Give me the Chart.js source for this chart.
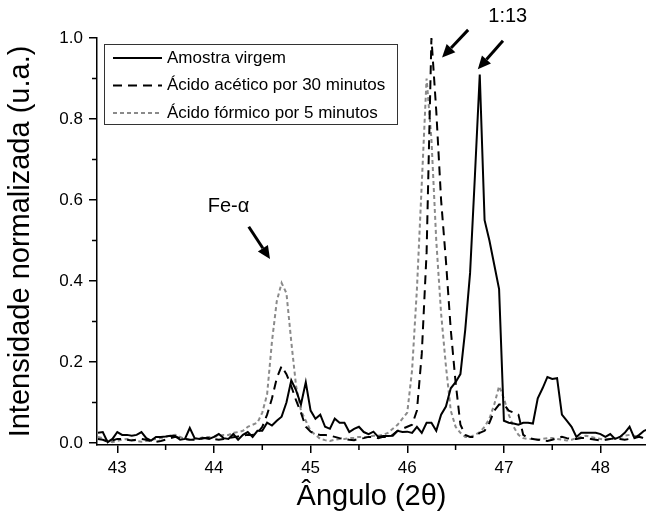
<!DOCTYPE html>
<html>
<head>
<meta charset="utf-8">
<script src="https://cdn.jsdelivr.net/npm/chart.js@4.4.1/dist/chart.umd.min.js"></script>
<style>
  html, body { margin: 0; padding: 0; background: #fff; }
</style>
</head>
<body>
<canvas id="chartXRD" width="646" height="520"></canvas>
<script>
// angulo 2theta (graus)
const angulos = [
  42.80, 42.85, 42.90, 42.95, 43.00, 43.05, 43.10, 43.15, 43.20, 43.25,
  43.30, 43.35, 43.40, 43.45, 43.50, 43.55, 43.60, 43.65, 43.70, 43.75,
  43.80, 43.85, 43.90, 43.95, 44.00, 44.05, 44.10, 44.15, 44.20, 44.25,
  44.30, 44.35, 44.40, 44.45, 44.50, 44.55, 44.60, 44.65, 44.70, 44.75,
  44.80, 44.85, 44.90, 44.95, 45.00, 45.05, 45.10, 45.15, 45.20, 45.25,
  45.30, 45.35, 45.40, 45.45, 45.50, 45.55, 45.60, 45.65, 45.70, 45.75,
  45.80, 45.85, 45.90, 45.95, 46.00, 46.05, 46.10, 46.15, 46.20, 46.25,
  46.30, 46.35, 46.40, 46.45, 46.50, 46.55, 46.60, 46.65, 46.70, 46.75,
  46.80, 46.85, 46.90, 46.95, 47.00, 47.05, 47.10, 47.15, 47.20, 47.25,
  47.30, 47.35, 47.40, 47.45, 47.50, 47.55, 47.60, 47.65, 47.70, 47.75,
  47.80, 47.85, 47.90, 47.95, 48.00, 48.05, 48.10, 48.15, 48.20, 48.25,
  48.30, 48.35, 48.40, 48.45, 48.50
];

const amostraVirgem = [
  0.025, 0.027, 0.002, 0.010, 0.027, 0.020, 0.020, 0.018, 0.020, 0.027,
  0.012, 0.006, 0.015, 0.015, 0.016, 0.018, 0.017, 0.008, 0.010, 0.037,
  0.012, 0.010, 0.012, 0.010, 0.015, 0.022, 0.012, 0.010, 0.022, 0.008,
  0.020, 0.027, 0.015, 0.030, 0.030, 0.050, 0.043, 0.055, 0.065, 0.100,
  0.155, 0.130, 0.095, 0.150, 0.080, 0.060, 0.070, 0.040, 0.035, 0.060,
  0.050, 0.050, 0.027, 0.035, 0.040, 0.027, 0.022, 0.028, 0.015, 0.017,
  0.017, 0.018, 0.030, 0.027, 0.028, 0.025, 0.040, 0.025, 0.050, 0.050,
  0.030, 0.070, 0.090, 0.135, 0.150, 0.170, 0.280, 0.420, 0.660, 0.910,
  0.550, 0.500, 0.440, 0.380, 0.055, 0.050, 0.048, 0.045, 0.050, 0.050,
  0.048, 0.110, 0.135, 0.163, 0.158, 0.160, 0.070, 0.055, 0.040, 0.015,
  0.025, 0.025, 0.025, 0.025, 0.022, 0.015, 0.022, 0.010, 0.015, 0.025,
  0.040, 0.012, 0.020, 0.030, 0.035
];

const acidoAcetico30 = [
  0.010, 0.008, 0.003, 0.006, 0.010, 0.010, 0.008, 0.006, 0.008, 0.010,
  0.008, 0.004, 0.003, 0.005, 0.008, 0.012, 0.015, 0.012, 0.010, 0.008,
  0.008, 0.010, 0.012, 0.012, 0.010, 0.008, 0.010, 0.012, 0.014, 0.016,
  0.018, 0.020, 0.020, 0.025, 0.040, 0.070, 0.110, 0.160, 0.190, 0.170,
  0.140, 0.105, 0.075, 0.040, 0.028, 0.022, 0.020, 0.020, 0.018, 0.015,
  0.012, 0.010, 0.008, 0.007, 0.010, 0.012, 0.015, 0.015, 0.012, 0.015,
  0.015, 0.020, 0.030, 0.035, 0.040, 0.045, 0.080, 0.220, 0.470, 1.000,
  0.820, 0.600, 0.450, 0.280, 0.150, 0.045, 0.020, 0.015, 0.015, 0.025,
  0.030, 0.050, 0.080, 0.095, 0.095, 0.080, 0.075, 0.070, 0.020, 0.012,
  0.010, 0.008, 0.006, 0.005, 0.008, 0.012, 0.015, 0.012, 0.010, 0.010,
  0.012, 0.012, 0.010, 0.008, 0.006, 0.008, 0.010, 0.012, 0.010, 0.008,
  0.010, 0.012, 0.015, 0.012, 0.010
];

const acidoFormico5 = [
  0.015, 0.012, 0.005, 0.002, 0.005, 0.008, 0.010, 0.008, 0.005, 0.003,
  0.005, 0.008, 0.010, 0.012, 0.015, 0.018, 0.020, 0.015, 0.010, 0.008,
  0.010, 0.012, 0.015, 0.015, 0.015, 0.018, 0.020, 0.020, 0.025, 0.027,
  0.030, 0.040, 0.045, 0.050, 0.075, 0.120, 0.250, 0.350, 0.395, 0.370,
  0.250, 0.140, 0.080, 0.055, 0.030, 0.020, 0.010, 0.007, 0.005, 0.008,
  0.010, 0.010, 0.012, 0.012, 0.015, 0.015, 0.015, 0.018, 0.018, 0.020,
  0.025, 0.035, 0.045, 0.060, 0.075, 0.180, 0.380, 0.640, 0.900, 0.750,
  0.500, 0.320, 0.190, 0.080, 0.040, 0.025, 0.015, 0.015, 0.020, 0.027,
  0.040, 0.060, 0.095, 0.140, 0.110, 0.070, 0.040, 0.020, 0.012, 0.010,
  0.010, 0.008, 0.010, 0.012, 0.012, 0.010, 0.008, 0.006, 0.008, 0.012,
  0.015, 0.018, 0.015, 0.012, 0.010, 0.008, 0.010, 0.012, 0.015, 0.018,
  0.020, 0.018, 0.015, 0.012, 0.010
];

const rotulos = ["Amostra virgem", "Ácido acético por 30 minutos", "Ácido fórmico por 5 minutos"];

// anotacoes em coordenadas de dados: [x0, y0, x1, y1] (ponta em x1,y1)
const setas = [
  [44.36, 0.534, 44.58, 0.454],
  [46.63, 1.020, 46.36, 0.952],
  [46.99, 0.993, 46.73, 0.923]
];
const textos = [
  { texto: "Fe-α", x: 44.15, y: 0.583 },
  { texto: "1:13", x: 47.04, y: 1.054 }
];

const FONTE = "'Liberation Sans', Arial, sans-serif";

function pontos(ys) {
  return ys.map((y, i) => ({ x: angulos[i], y: y }));
}

const soDentro = scale => {
  scale.ticks = scale.ticks.filter(t => t.value >= scale.min - 1e-9 && t.value <= scale.max + 1e-9);
};

// ticks menores, legenda com moldura e setas
const extras = {
  id: 'extras',
  afterDraw(chart) {
    const c = chart.ctx;
    const xs = chart.scales.x, ys = chart.scales.y;
    const area = chart.chartArea;

    c.save();
    c.strokeStyle = '#000';
    c.lineWidth = 1.5;
    c.beginPath();
    for (let v = Math.ceil(xs.min * 2) / 2; v <= xs.max; v += 0.5) {
      if (Math.abs(v - Math.round(v)) < 1e-6) continue;
      const px = xs.getPixelForValue(v);
      c.moveTo(px, area.bottom);
      c.lineTo(px, area.bottom + 5);
    }
    for (let k = 1; k < 10; k += 2) {
      const py = ys.getPixelForValue(k / 10);
      c.moveTo(area.left, py);
      c.lineTo(area.left - 5, py);
    }
    c.stroke();

    // legenda
    const lx = 104, ly = 44, lw = 293, lh = 80;
    c.fillStyle = '#fff';
    c.fillRect(lx, ly, lw, lh);
    c.strokeStyle = '#333';
    c.lineWidth = 1;
    c.strokeRect(lx + 0.5, ly + 0.5, lw, lh);
    c.font = '17px ' + FONTE;
    c.textBaseline = 'middle';
    c.textAlign = 'left';
    chart.data.datasets.forEach((ds, i) => {
      const yy = ly + 14 + i * 27.5;
      c.beginPath();
      c.setLineDash(ds.borderDash || []);
      c.strokeStyle = ds.borderColor;
      c.lineWidth = ds.borderWidth;
      c.moveTo(lx + 9, yy);
      c.lineTo(lx + 58, yy);
      c.stroke();
      c.setLineDash([]);
      c.fillStyle = '#000';
      c.fillText(ds.label, lx + 63, yy);
    });

    // setas
    c.strokeStyle = '#000';
    c.fillStyle = '#000';
    setas.forEach(s => {
      const x0 = xs.getPixelForValue(s[0]), y0 = ys.getPixelForValue(s[1]);
      const x1 = xs.getPixelForValue(s[2]), y1 = ys.getPixelForValue(s[3]);
      const ang = Math.atan2(y1 - y0, x1 - x0);
      const cab = 13, meia = 6;
      const bx = x1 - cab * Math.cos(ang), by = y1 - cab * Math.sin(ang);
      c.lineWidth = 3;
      c.beginPath();
      c.moveTo(x0, y0);
      c.lineTo(bx, by);
      c.stroke();
      c.beginPath();
      c.moveTo(x1, y1);
      c.lineTo(bx + meia * Math.sin(ang), by - meia * Math.cos(ang));
      c.lineTo(bx - meia * Math.sin(ang), by + meia * Math.cos(ang));
      c.closePath();
      c.fill();
    });

    c.font = '20px ' + FONTE;
    c.textAlign = 'center';
    textos.forEach(t => {
      c.fillText(t.texto, xs.getPixelForValue(t.x), ys.getPixelForValue(t.y));
    });
    c.restore();
  }
};

new Chart(document.getElementById('chartXRD').getContext('2d'), {
  type: 'line',
  data: {
    datasets: [
      {
        label: rotulos[0],
        data: pontos(amostraVirgem),
        borderColor: '#000',
        borderWidth: 2,
        borderDash: []
      },
      {
        label: rotulos[1],
        data: pontos(acidoAcetico30),
        borderColor: '#000',
        borderWidth: 2,
        borderDash: [9, 6]
      },
      {
        label: rotulos[2],
        data: pontos(acidoFormico5),
        borderColor: '#8a8a8a',
        borderWidth: 2,
        borderDash: [4, 3]
      }
    ]
  },
  options: {
    responsive: false,
    animation: false,
    layout: { padding: { top: 38, right: 0, left: 0, bottom: 0 } },
    elements: {
      point: { radius: 0 },
      line: { tension: 0, fill: false }
    },
    datasets: { line: { clip: false } },
    plugins: {
      legend: { display: false },
      tooltip: { enabled: false }
    },
    scales: {
      x: {
        type: 'linear',
        min: 42.79,
        max: 48.47,
        afterFit: s => { s.height = 75; },
        afterBuildTicks: soDentro,
        border: { color: '#000', width: 1.5 },
        grid: { drawOnChartArea: false, tickLength: 8, color: '#000', lineWidth: 1.5 },
        ticks: {
          stepSize: 1,
          includeBounds: false,
          autoSkip: false,
          maxRotation: 0,
          color: '#000',
          padding: 5,
          font: { size: 17, family: FONTE },
          callback: v => String(Math.round(v))
        },
        title: {
          display: true,
          text: 'Ângulo (2θ)',
          color: '#000',
          font: { size: 29, family: FONTE },
          padding: { top: 0, bottom: 6 }
        }
      },
      y: {
        min: -0.005,
        max: 1.0,
        afterFit: s => { s.width = 97; },
        afterBuildTicks: soDentro,
        border: { color: '#000', width: 1.5 },
        grid: { drawOnChartArea: false, tickLength: 8, color: '#000', lineWidth: 1.5 },
        ticks: {
          stepSize: 0.2,
          includeBounds: false,
          color: '#000',
          padding: 6,
          font: { size: 17, family: FONTE },
          callback: v => v.toFixed(1)
        },
        title: {
          display: true,
          text: 'Intensidade normalizada (u.a.)',
          color: '#000',
          font: { size: 29, family: FONTE },
          padding: { top: 4, bottom: 4 }
        }
      }
    }
  },
  plugins: [extras]
});
</script>
</body>
</html>
